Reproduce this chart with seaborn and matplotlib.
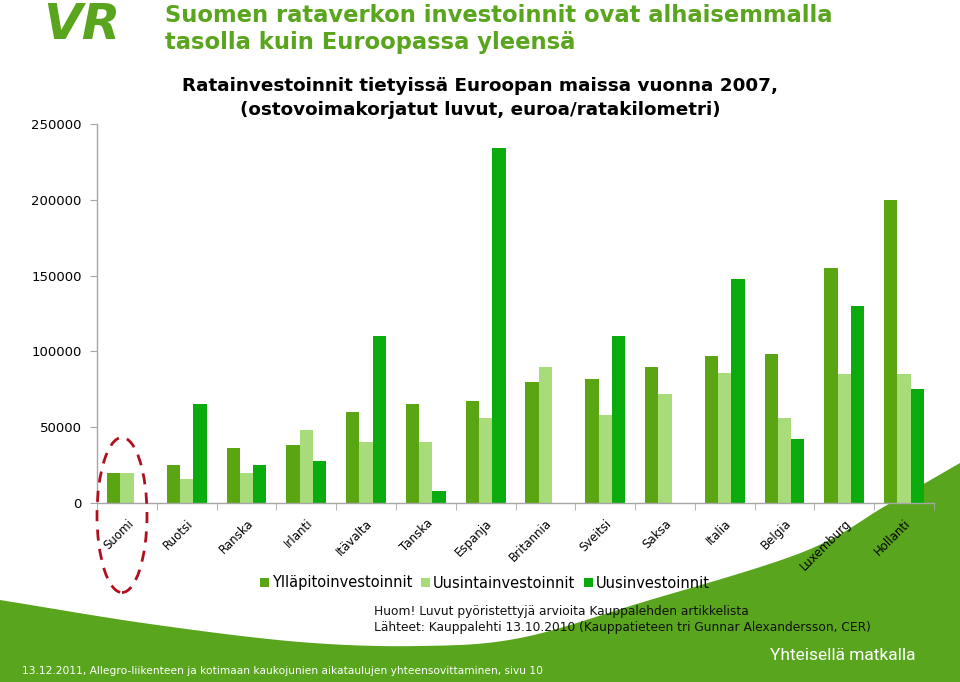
import numpy as np
import pandas as pd
import matplotlib
matplotlib.use("Agg")
import matplotlib.pyplot as plt
from matplotlib.patches import Polygon, Ellipse, Patch
import seaborn as sns

# ---- data ----
maat = ["Suomi", "Ruotsi", "Ranska", "Irlanti", "Itävalta", "Tanska", "Espanja",
        "Britannia", "Sveitsi", "Saksa", "Italia", "Belgia", "Luxemburg", "Hollanti"]
sarjat = ["Ylläpitoinvestoinnit", "Uusintainvestoinnit", "Uusinvestoinnit"]
yllapito = [20000, 25000, 36000, 38000, 60000, 65000, 67000, 80000, 82000, 90000, 97000, 98000, 155000, 200000]
uusinta = [20000, 16000, 20000, 48000, 40000, 40000, 56000, 90000, 58000, 72000, 86000, 56000, 85000, 85000]
uusi = [0, 65000, 25000, 28000, 110000, 8000, 234000, 0, 110000, 0, 148000, 42000, 130000, 75000]
y_ticks = [0, 50000, 100000, 150000, 200000, 250000]

colors = ["#5aa512", "#a8dc7a", "#0aab0c"]
swoosh_green = "#5aa51e"

df = pd.DataFrame({
    "maa": maat * 3,
    "sarja": [sarjat[0]] * len(maat) + [sarjat[1]] * len(maat) + [sarjat[2]] * len(maat),
    "arvo": yllapito + uusinta + uusi,
})

W, H = 960, 682
fig = plt.figure(figsize=(W / 100, H / 100), dpi=100)
plt.rcParams['font.family'] = ['DejaVu Sans']

def fx(x):
    return x / W

def fy(y):
    return 1 - y / H

def catmull_rom(p, n=30):
    p = np.asarray(p, float)
    p = np.vstack([2 * p[0] - p[1], p, 2 * p[-1] - p[-2]])
    out = []
    for i in range(1, len(p) - 2):
        p0, p1, p2, p3 = p[i - 1], p[i], p[i + 1], p[i + 2]
        for t in np.linspace(0, 1, n, endpoint=False):
            t2, t3 = t * t, t * t * t
            out.append(0.5 * ((2 * p1) + (-p0 + p2) * t + (2 * p0 - 5 * p1 + 4 * p2 - p3) * t2
                              + (-p0 + 3 * p1 - 3 * p2 + p3) * t3))
    out.append(p[-2])
    return np.array(out)

# ---- background swoosh ----
ctrl = [(0, 600), (150, 624), (300, 642), (420, 646), (520, 638), (640, 603),
        (803, 552), (887, 505), (960, 463)]
curve = catmull_rom(ctrl)
pts = [(fx(a), fy(b)) for a, b in curve] + [(1, 0), (0, 0)]
fig.patches.append(Polygon(pts, closed=True, transform=fig.transFigure,
                           facecolor=swoosh_green, edgecolor="none", zorder=-5))

# ---- axes ----
ax = fig.add_axes([fx(97), fy(503), fx(934) - fx(97), fy(124) - fy(503)])
ax.set_zorder(2)
ax.patch.set_alpha(0)
sns.barplot(data=df, x="maa", y="arvo", hue="sarja", hue_order=sarjat,
            palette=colors, width=0.667, saturation=1, linewidth=0,
            ax=ax, legend=False)
ax.set_xlim(-0.5, len(maat) - 0.5)
ax.set_ylim(0, 250000)
ax.set_yticks(y_ticks)
ax.set_yticklabels([str(v) for v in y_ticks], fontsize=9.5)
ax.set_xlabel("")
ax.set_ylabel("")
for s in ["top", "right"]:
    ax.spines[s].set_visible(False)
for s in ["left", "bottom"]:
    ax.spines[s].set_color("#a6a6a6")
    ax.spines[s].set_linewidth(1)
ax.tick_params(axis="y", length=5, color="#a6a6a6", pad=6)
ax.set_xticks(range(len(maat)))
ax.set_xticklabels(maat, rotation=45, ha="right", rotation_mode="anchor", fontsize=8.5)
ax.tick_params(axis="x", length=0, pad=10)
ax.set_xticks(np.arange(-0.5, len(maat), 1.0), minor=True)
ax.tick_params(axis="x", which="minor", length=5, color="#a6a6a6")
ax.grid(False)

# ---- red dashed ellipse ----
fig.patches.append(Ellipse((fx(122), fy(515)), 50 / W, 155 / H, transform=fig.transFigure,
                           fill=False, edgecolor="#b0101e", linestyle=(0, (4, 3)),
                           linewidth=2, zorder=5))

# ---- legend ----
handles = [Patch(facecolor=c, edgecolor="none") for c in colors]
fig.legend(handles, sarjat, loc="center", bbox_to_anchor=(fx(485), fy(583)), ncol=3,
           frameon=False, handlelength=0.6, handleheight=0.6, handletextpad=0.2,
           columnspacing=0.6, fontsize=10.5)

# ---- texts ----
fig.text(fx(165), fy(16), "Suomen rataverkon investoinnit ovat alhaisemmalla",
         color=swoosh_green, fontsize=16.3, fontweight="bold", va="center", ha="left")
fig.text(fx(165), fy(43), "tasolla kuin Euroopassa yleensä",
         color=swoosh_green, fontsize=16.3, fontweight="bold", va="center", ha="left")
fig.text(fx(480), fy(86), "Ratainvestoinnit tietyissä Euroopan maissa vuonna 2007,",
         color="black", fontsize=13.2, fontweight="bold", va="center", ha="center")
fig.text(fx(480), fy(110), "(ostovoimakorjatut luvut, euroa/ratakilometri)",
         color="black", fontsize=13.2, fontweight="bold", va="center", ha="center")
fig.text(fx(82), fy(25), "VR", color=swoosh_green, fontsize=36, fontweight="heavy",
         style="italic", va="center", ha="center")

fig.text(fx(374), fy(611), "Huom! Luvut pyöristettyjä arvioita Kauppalehden artikkelista",
         fontsize=8.8, color="#111111", va="center", ha="left")
fig.text(fx(374), fy(627), "Lähteet: Kauppalehti 13.10.2010 (Kauppatieteen tri Gunnar Alexandersson, CER)",
         fontsize=8.8, color="#111111", va="center", ha="left")
fig.text(fx(22), fy(671), "13.12.2011, Allegro-liikenteen ja kotimaan kaukojunien aikataulujen yhteensovittaminen, sivu 10",
         fontsize=7.7, color="white", va="center", ha="left")
fig.text(fx(915), fy(656), "Yhteisellä matkalla", fontsize=12.5, color="white",
         family="Roboto", va="center", ha="right")

fig.savefig("out.png", dpi=100)
